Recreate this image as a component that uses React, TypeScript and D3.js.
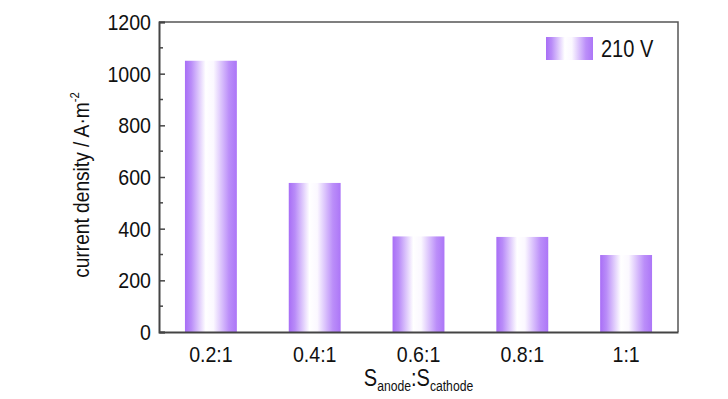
import React, { useEffect, useRef } from 'react';
import * as d3 from 'd3';

// chart data
const ratios = ['0.2:1', '0.4:1', '0.6:1', '0.8:1', '1:1'];
const density210V = [1050, 577, 370, 368, 298];
const yTicks = [0, 200, 400, 600, 800, 1000, 1200];
const legendLabel = '210 V';

const W = 728;
const H = 399;
const margin = { top: 22, right: 50, bottom: 67, left: 159 };
const FONT = '"Liberation Sans", Arial, sans-serif';
const NARROW = 0.87; // the original uses a condensed face

export default function App() {
  const ref = useRef<SVGSVGElement>(null);

  useEffect(() => {
    const svg = d3.select(ref.current);
    svg.selectAll('*').remove();

    const width = W - margin.left - margin.right;
    const height = H - margin.top - margin.bottom;

    // bar gradient: purple edges, white middle
    const defs = svg.append('defs');
    const grad = defs
      .append('linearGradient')
      .attr('id', 'barGrad')
      .attr('x1', '0%')
      .attr('x2', '100%')
      .attr('y1', '0%')
      .attr('y2', '0%');
    const stops: [string, string][] = [
      ['0%', '#a86ef6'],
      ['12%', '#b98cf8'],
      ['40%', '#ffffff'],
      ['55%', '#fbf8ff'],
      ['85%', '#bb8ef9'],
      ['100%', '#ac76f7'],
    ];
    stops.forEach(([o, c]) => grad.append('stop').attr('offset', o).attr('stop-color', c));

    const g = svg
      .append('g')
      .attr('transform', `translate(${margin.left},${margin.top})`);

    const x = d3
      .scaleBand()
      .domain(ratios)
      .range([0, width])
      .paddingInner(0.5)
      .paddingOuter(0.25);
    const y = d3.scaleLinear().domain([0, 1200]).range([height, 0]);

    // bars
    g.selectAll('rect.bar')
      .data(density210V)
      .enter()
      .append('rect')
      .attr('class', 'bar')
      .attr('x', (d, i) => x(ratios[i]) as number)
      .attr('width', x.bandwidth())
      .attr('y', d => y(d))
      .attr('height', d => height - y(d))
      .attr('fill', 'url(#barGrad)');

    // frame (top + right)
    g.append('path')
      .attr('d', `M0,0H${width}V${height}`)
      .attr('fill', 'none')
      .attr('stroke', '#555')
      .attr('stroke-width', 1.5);

    // y axis: major ticks inward, minor ticks every 100
    const yAxis = g.append('g').call(
      d3.axisRight(y).tickValues(yTicks).tickSize(6).tickFormat(() => '')
    );
    yAxis.selectAll('.tick line').attr('stroke', '#444').attr('stroke-width', 1.5);
    const minor = d3.range(100, 1200, 200);
    yAxis
      .selectAll('line.minor')
      .data(minor)
      .enter()
      .append('line')
      .attr('class', 'minor')
      .attr('x1', 0)
      .attr('x2', 4)
      .attr('y1', d => y(d))
      .attr('y2', d => y(d))
      .attr('stroke', '#444')
      .attr('stroke-width', 1.5);
    yAxis.select('.domain').attr('stroke', '#444').attr('stroke-width', 2);

    g.selectAll('text.ylab')
      .data(yTicks)
      .enter()
      .append('text')
      .attr('class', 'ylab')
      .attr('transform', d => `translate(-8,${y(d)}) scale(${NARROW},1)`)
      .attr('dy', '0.36em')
      .attr('text-anchor', 'end')
      .attr('font-family', FONT)
      .attr('font-size', 22.5)
      .attr('fill', '#111')
      .text(d => d);

    // x axis
    const xAxis = g
      .append('g')
      .attr('transform', `translate(0,${height})`)
      .call(d3.axisBottom(x).tickSize(0).tickPadding(14));
    xAxis.select('.domain').attr('stroke', '#444').attr('stroke-width', 2);
    xAxis
      .selectAll('.tick text')
      .attr('transform', `scale(${NARROW},1)`)
      .attr('font-family', FONT)
      .attr('font-size', 22.5)
      .attr('fill', '#111');

    // axis titles
    const yt = svg
      .append('text')
      .attr(
        'transform',
        `translate(89,${margin.top + height / 2 + 8}) rotate(-90) scale(${NARROW},1)`
      )
      .attr('text-anchor', 'middle')
      .attr('font-family', FONT)
      .attr('font-size', 22)
      .attr('fill', '#111');
    yt.append('tspan').text('current density / A·m');
    yt.append('tspan').attr('font-size', 13).attr('dy', -10).text('-2');

    const xt = svg
      .append('text')
      .attr('transform', `translate(${margin.left + width / 2},386) scale(${NARROW},1)`)
      .attr('text-anchor', 'middle')
      .attr('font-family', FONT)
      .attr('font-size', 23)
      .attr('fill', '#111');
    xt.append('tspan').text('S');
    xt.append('tspan').attr('font-size', 14).attr('dy', 5).text('anode');
    xt.append('tspan').attr('dy', -5).text(':S');
    xt.append('tspan').attr('font-size', 14).attr('dy', 5).text('cathode');

    // legend
    const lg = g.append('g').attr('transform', `translate(${width - 132},15)`);
    lg.append('rect')
      .attr('width', 47)
      .attr('height', 23)
      .attr('fill', 'url(#barGrad)');
    lg.append('text')
      .attr('transform', `translate(55,20) scale(${NARROW},1)`)
      .attr('font-family', FONT)
      .attr('font-size', 23)
      .attr('fill', '#111')
      .text(legendLabel);
  }, []);

  return (
    <svg
      ref={ref}
      width={W}
      height={H}
      style={{ position: 'absolute', left: 0, top: 0, background: '#fff' }}
    />
  );
}
